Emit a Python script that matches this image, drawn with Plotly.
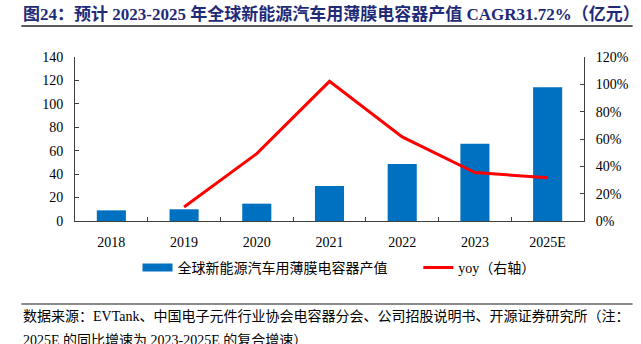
import plotly.graph_objects as go

categories = ["2018", "2019", "2020", "2021", "2022", "2023", "2025E"]
output_value = [9.1, 10.0, 14.8, 29.9, 48.7, 66.0, 114.1]
yoy_categories = ["2019", "2020", "2021", "2022", "2023", "2025E"]
yoy_values = [0.102, 0.493, 1.022, 0.615, 0.354, 0.317]

bar_name = "全球新能源汽车用薄膜电容器产值"
line_name = "yoy（右轴）"
title_text = "图24：预计 2023-2025 年全球新能源汽车用薄膜电容器产值 CAGR31.72%（亿元）"
source_line1 = "数据来源：EVTank、中国电子元件行业协会电容器分会、公司招股说明书、开源证券研究所（注："
source_line2 = "2025E 的同比增速为 2023-2025E 的复合增速）"

BLUE = "#0070C0"
RED = "#FF0000"
NAVY = "#1F2A78"
SERIF = "Liberation Serif, Noto Sans CJK SC, serif"

W, H = 641, 344
L, R, T, B = 75, 53, 57, 123
PW, PH = W - L - R, H - T - B


def px(x):
    return (x - L) / PW


def py(y):
    return (H - B - y) / PH


fig = go.Figure()
fig.add_trace(go.Bar(x=categories, y=output_value, marker=dict(color=BLUE, line=dict(width=0)),
                     width=0.4, showlegend=False, name=bar_name))
fig.add_trace(go.Scatter(x=yoy_categories, y=yoy_values, mode="lines", yaxis="y2",
                         line=dict(color=RED, width=3), showlegend=False, name=line_name))
# legend entries
fig.add_trace(go.Scatter(x=[None], y=[None], mode="lines", line=dict(color=BLUE, width=8),
                         name=bar_name, legend="legend"))
fig.add_trace(go.Scatter(x=[None], y=[None], mode="lines", line=dict(color=RED, width=3),
                         name=line_name, legend="legend2"))

axis_font = dict(family=SERIF, size=14, color="#000000")
legend_font = dict(family=SERIF, size=14, color="#000000")
fig.update_layout(
    width=W, height=H,
    margin=dict(l=L, r=R, t=T, b=B, pad=0),
    paper_bgcolor="white", plot_bgcolor="white",
    xaxis=dict(type="category", categoryorder="array", categoryarray=categories,
               range=[-0.5, 6.5], showline=True, linecolor="#404040", linewidth=1,
               ticks="inside", tickson="boundaries", ticklen=4, tickcolor="#404040",
               showgrid=False, zeroline=False, tickfont=axis_font, ticklabelstandoff=8),
    yaxis=dict(range=[0, 140], dtick=20, showline=True, linecolor="#404040", linewidth=1,
               ticks="inside", ticklen=4, tickcolor="#404040", showgrid=False, zeroline=False,
               tickfont=axis_font, ticklabelstandoff=8),
    yaxis2=dict(range=[0, 1.2], dtick=0.2, tickformat=".0%", overlaying="y", side="right",
                showline=True, linecolor="#404040", linewidth=1, ticks="inside", ticklen=4,
                tickcolor="#404040", showgrid=False, zeroline=False, tickfont=axis_font,
                ticklabelstandoff=8),
    legend=dict(orientation="h", x=px(138), y=py(268), xanchor="left", yanchor="middle",
                font=legend_font, itemwidth=30, bgcolor="rgba(0,0,0,0)"),
    legend2=dict(orientation="h", x=px(421), y=py(268), xanchor="left", yanchor="middle",
                 font=legend_font, itemwidth=30, bgcolor="rgba(0,0,0,0)"),
)

fig.add_annotation(text="<b>" + title_text + "</b>", xref="paper", yref="paper",
                   x=px(21), y=py(14), xanchor="left", yanchor="middle", showarrow=False,
                   font=dict(family=SERIF, size=17, color=NAVY))
fig.add_annotation(text=source_line1, xref="paper", yref="paper",
                   x=px(21), y=py(316), xanchor="left", yanchor="middle", showarrow=False,
                   font=dict(family=SERIF, size=14, color="#000000"))
fig.add_annotation(text=source_line2, xref="paper", yref="paper",
                   x=px(21), y=py(340), xanchor="left", yanchor="middle", showarrow=False,
                   font=dict(family=SERIF, size=14, color="#000000"))

fig.add_shape(type="line", xref="paper", yref="paper", x0=px(21), x1=px(637), y0=py(26), y1=py(26),
              line=dict(color="#222222", width=1.5))
fig.add_shape(type="line", xref="paper", yref="paper", x0=px(21), x1=px(637), y0=py(304), y1=py(304),
              line=dict(color="#8C8C8C", width=2))

fig.write_html("out.html")
